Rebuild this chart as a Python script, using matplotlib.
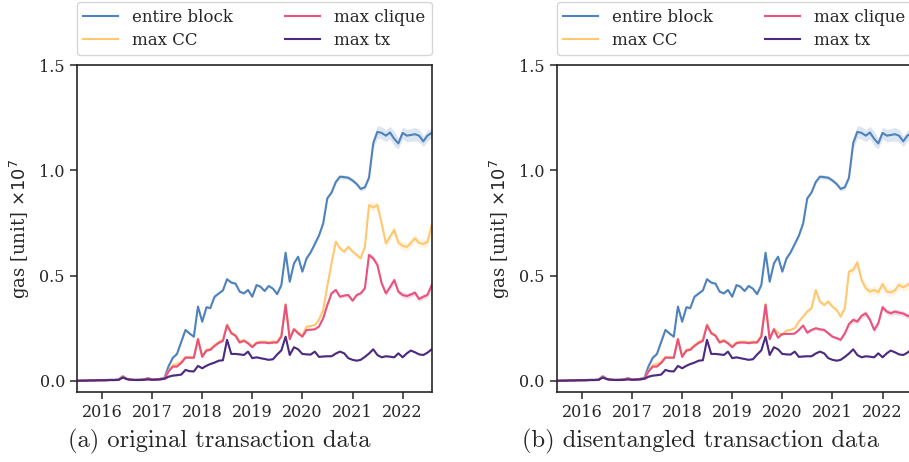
import matplotlib
matplotlib.use('Agg')
import matplotlib.pyplot as plt
import matplotlib.dates as mdates
import numpy as np
import pandas as pd

# monthly samples, Jul 2015 .. Aug 2022 (values in units of 1e7 gas)
months = pd.date_range('2015-07-01', '2022-08-01', freq='MS')

entire_block = [0.000, 0.001, 0.002, 0.002, 0.003, 0.003, 0.004, 0.004, 0.005, 0.005, 0.006,
                0.022,
                0.010, 0.006, 0.005, 0.006, 0.007, 0.012, 0.007, 0.008, 0.010, 0.015,
                0.070, 0.110, 0.128, 0.185, 0.242, 0.225, 0.210, 0.353, 0.281, 0.350,
                0.346, 0.400, 0.415, 0.430, 0.483, 0.467, 0.462, 0.424, 0.416, 0.432,
                0.400, 0.455, 0.448, 0.427, 0.451, 0.438, 0.412, 0.455, 0.609, 0.471,
                0.558, 0.590, 0.519, 0.582, 0.610, 0.650, 0.690, 0.748, 0.867, 0.895,
                0.945, 0.970, 0.968, 0.965, 0.952, 0.935, 0.912, 0.920, 0.965, 1.130,
                1.183, 1.178, 1.165, 1.180, 1.150, 1.128, 1.178, 1.165, 1.168, 1.172,
                1.165, 1.138, 1.165, 1.178]

max_tx = [0.000, 0.001, 0.001, 0.002, 0.002, 0.003, 0.003, 0.003, 0.004, 0.004, 0.005,
          0.016,
          0.008, 0.005, 0.004, 0.004, 0.005, 0.007, 0.005, 0.006, 0.007, 0.010,
          0.020, 0.025, 0.027, 0.030, 0.052, 0.046, 0.045, 0.071, 0.060, 0.072,
          0.080, 0.087, 0.096, 0.098, 0.195, 0.128, 0.128, 0.126, 0.123, 0.139,
          0.108, 0.112, 0.108, 0.104, 0.100, 0.103, 0.125, 0.145, 0.210, 0.123,
          0.160, 0.150, 0.128, 0.126, 0.125, 0.139, 0.114, 0.116, 0.117, 0.117,
          0.130, 0.139, 0.131, 0.108, 0.100, 0.096, 0.100, 0.114, 0.130, 0.150,
          0.123, 0.112, 0.117, 0.115, 0.112, 0.131, 0.112, 0.131, 0.144, 0.136,
          0.126, 0.123, 0.134, 0.150]

# first 52 months are the same in both panels
clique_early = [0.000, 0.001, 0.001, 0.002, 0.002, 0.003, 0.003, 0.004, 0.004, 0.004, 0.005,
                0.018,
                0.009, 0.005, 0.005, 0.005, 0.006, 0.012, 0.006, 0.007, 0.008, 0.012,
                0.045, 0.068, 0.068, 0.085, 0.110, 0.110, 0.110, 0.198, 0.114, 0.144,
                0.147, 0.166, 0.180, 0.190, 0.264, 0.226, 0.214, 0.182, 0.190, 0.178,
                0.160, 0.179, 0.182, 0.182, 0.179, 0.182, 0.182, 0.210, 0.361, 0.198]
cc_early = [0.000, 0.001, 0.001, 0.002, 0.002, 0.003, 0.003, 0.004, 0.004, 0.004, 0.005,
            0.019,
            0.009, 0.005, 0.005, 0.005, 0.006, 0.012, 0.006, 0.007, 0.008, 0.013,
            0.048, 0.075, 0.080, 0.090, 0.115, 0.112, 0.112, 0.200, 0.118, 0.148,
            0.152, 0.170, 0.185, 0.195, 0.268, 0.230, 0.218, 0.186, 0.195, 0.182,
            0.165, 0.183, 0.186, 0.186, 0.184, 0.187, 0.186, 0.215, 0.365, 0.203]

clique_a_late = [0.245, 0.226, 0.210, 0.242, 0.243, 0.245, 0.258, 0.297, 0.360, 0.416,
                 0.432, 0.400, 0.405, 0.408, 0.381, 0.408, 0.416, 0.440, 0.598, 0.582,
                 0.551, 0.464, 0.416, 0.445, 0.479, 0.424, 0.408, 0.403, 0.410, 0.419,
                 0.389, 0.400, 0.408, 0.455]
cc_a_late = [0.248, 0.230, 0.216, 0.258, 0.260, 0.265, 0.290, 0.337, 0.450, 0.560,
             0.661, 0.630, 0.614, 0.637, 0.615, 0.598, 0.582, 0.637, 0.835, 0.824,
             0.835, 0.748, 0.653, 0.685, 0.717, 0.656, 0.642, 0.636, 0.655, 0.677,
             0.656, 0.650, 0.660, 0.740]
clique_b_late = [0.245, 0.205, 0.223, 0.223, 0.223, 0.225, 0.242, 0.263, 0.229, 0.242,
                 0.250, 0.245, 0.242, 0.226, 0.210, 0.203, 0.195, 0.226, 0.270, 0.290,
                 0.282, 0.309, 0.321, 0.290, 0.242, 0.274, 0.350, 0.329, 0.321, 0.329,
                 0.324, 0.320, 0.309, 0.305]
cc_b_late = [0.248, 0.228, 0.218, 0.239, 0.242, 0.250, 0.282, 0.305, 0.330, 0.345,
             0.432, 0.377, 0.361, 0.377, 0.352, 0.337, 0.305, 0.345, 0.519, 0.527,
             0.563, 0.479, 0.440, 0.424, 0.432, 0.421, 0.460, 0.424, 0.420, 0.430,
             0.456, 0.445, 0.455, 0.470]

# half width of the confidence band
entire_ci = [0.003] * 22 + [0.006] * 40 + [0.010] * 9 + \
            [0.025, 0.030, 0.030, 0.028, 0.030, 0.035, 0.025, 0.028, 0.030, 0.030,
             0.032, 0.030, 0.025, 0.025, 0.022]
cc_ci = [0.003] * 60 + [0.010] * 10 + [0.020] * 16
clique_ci = [0.003] * 60 + [0.008] * 10 + [0.013] * 16
tx_ci = [0.003] * 86

labels = ['entire block', 'max CC', 'max clique', 'max tx']
colours = ['#4f82bd', '#ffc870', '#e8527d', '#4b2a80']
captions = ['(a) original transaction data', '(b) disentangled transaction data']

panels = [
    [entire_block, cc_early + cc_a_late, clique_early + clique_a_late, max_tx],
    [entire_block, cc_early + cc_b_late, clique_early + clique_b_late, max_tx],
]
bands = [entire_ci, cc_ci, clique_ci, tx_ci]

plt.rcParams['font.family'] = ['DejaVu Serif']
plt.rcParams['text.color'] = '#262626'
plt.rcParams['axes.labelcolor'] = '#262626'
plt.rcParams['xtick.color'] = '#262626'
plt.rcParams['ytick.color'] = '#262626'

fig = plt.figure(figsize=(9.09, 4.62), dpi=100)
lefts = [0.0844, 0.6124]
caption_x = [219 / 909, 700 / 909]

for k, series in enumerate(panels):
    ax = fig.add_axes([lefts[k], 0.151, 0.3905, 0.708])
    for vals, ci, lab, col in zip(series, bands, labels, colours):
        vals = np.array(vals)
        ci = np.array(ci)
        ax.fill_between(months, vals - ci, vals + ci, color=col, alpha=0.2, lw=0)
        ax.plot(months, vals, color=col, lw=1.5, label=lab)
    ax.set_xlim(months[0], months[-1])
    ax.set_ylim(-0.054, 1.5)
    ax.set_yticks([0.0, 0.5, 1.0, 1.5])
    ax.xaxis.set_major_locator(mdates.YearLocator())
    ax.xaxis.set_major_formatter(mdates.DateFormatter('%Y'))
    ax.tick_params(labelsize=11.5, length=5, width=1.1)
    for s in ax.spines.values():
        s.set_color('#262626')
        s.set_linewidth(1.2)
    ax.set_ylabel('gas [unit] $\\times 10^7$', fontsize=13, labelpad=5)
    ax.legend(loc='lower left', bbox_to_anchor=(0, 1.03, 1, 0.1), mode='expand',
              ncol=2, borderaxespad=0, fontsize=12, handlelength=2.1, labelspacing=0.35)
    fig.text(caption_x[k], 0.045, captions[k], ha='center', va='center',
             fontsize=17.6, family=['cmr10', 'DejaVu Serif'])

plt.savefig('out.png', dpi=100)
